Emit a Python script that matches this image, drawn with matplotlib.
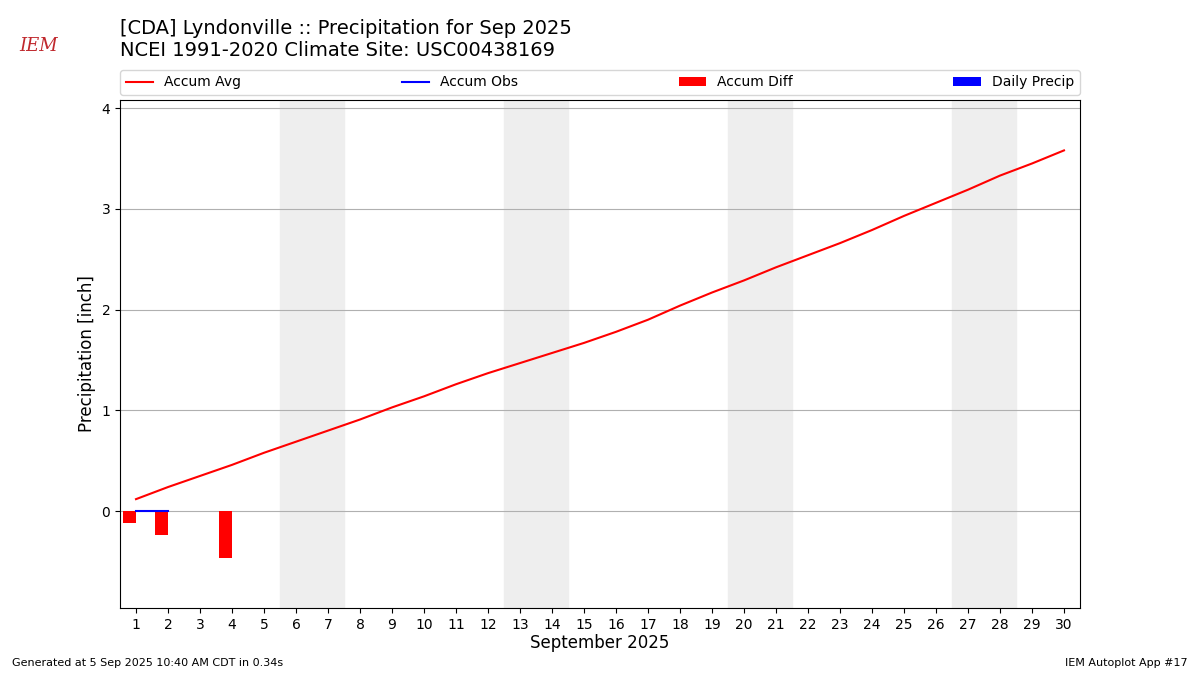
import matplotlib
matplotlib.use("Agg")
import matplotlib.pyplot as plt
from matplotlib.patches import Patch

days = list(range(1, 31))
accum_avg = [0.12, 0.24, 0.35, 0.46, 0.58, 0.69, 0.80, 0.91, 1.03, 1.14, 1.26, 1.37, 1.47, 1.57, 1.67,
             1.78, 1.90, 2.04, 2.17, 2.29, 2.42, 2.54, 2.66, 2.79, 2.93, 3.06, 3.19, 3.33, 3.45, 3.58]
obs_days = [1, 2]
accum_obs = [0.0, 0.0]
diff_days = [1, 2, 4]
accum_diff = [-0.12, -0.24, -0.46]
weekends = [(5.5, 7.5), (12.5, 14.5), (19.5, 21.5), (26.5, 28.5)]

fig = plt.figure(figsize=(12, 6.75), dpi=100)
ax = fig.add_axes([0.1, 1 - 608/675, 0.8, 508/675])
for a, b in weekends:
    ax.axvspan(a, b, color="#eeeeee", zorder=0)
l1, = ax.plot(days, accum_avg, color="red", label="Accum Avg", zorder=3)
l2, = ax.plot(obs_days, accum_obs, color="blue", label="Accum Obs", zorder=3)
b1 = ax.bar([d - 0.4 for d in diff_days], accum_diff, width=0.4, align="edge", color="red", label="Accum Diff", zorder=2)
p4 = Patch(facecolor="blue", label="Daily Precip")
ax.set_xlim(0.5, 30.5)
ax.set_ylim(-0.96, 4.08)
ax.set_xticks(days)
ax.set_yticks([0, 1, 2, 3, 4])
ax.grid(axis="y", zorder=1)
ax.set_axisbelow(True)
ax.set_xlabel("September 2025", fontsize=12, labelpad=2)
ax.set_ylabel("Precipitation [inch]", fontsize=12)
ax.legend(handles=[l1, l2, b1, p4], loc="lower left", bbox_to_anchor=(0, 1.01, 1, 0.05), ncol=4,
          mode="expand", borderaxespad=0, fontsize=10)

fig.text(0.1, 0.941, "[CDA] Lyndonville :: Precipitation for Sep 2025\nNCEI 1991-2020 Climate Site: USC00438169",
         fontsize=14, va="center", ha="left")
fig.text(0.01, 0.013, "Generated at 5 Sep 2025 10:40 AM CDT in 0.34s", fontsize=8)
fig.text(0.99, 0.013, "IEM Autoplot App #17", fontsize=8, ha="right")
fig.text(0.032, 0.925, "IEM", fontsize=13, color="#c0282d", style="italic", family="DejaVu Serif", ha="center")
fig.savefig("out.png", dpi=100)
